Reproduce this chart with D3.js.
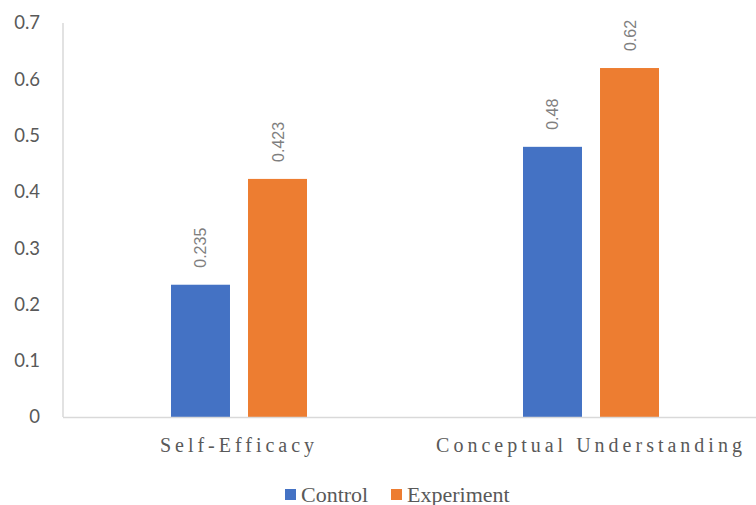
<!DOCTYPE html>
<html>
<head>
<meta charset="utf-8">
<script src="https://cdn.jsdelivr.net/npm/d3@7"></script>
<style>
  html, body { margin: 0; padding: 0; background: #fff; }
  svg { display: block; }
</style>
</head>
<body>
<div id="chart"></div>
<script>
// Grouped bar chart: Control vs Experiment across two outcome measures
const categories = ["Self-Efficacy", "Conceptual Understanding"];
const seriesNames = ["Control", "Experiment"];
const controlValues = [0.235, 0.48];
const experimentValues = [0.423, 0.62];
const yTicks = [0, 0.1, 0.2, 0.3, 0.4, 0.5, 0.6, 0.7];
const valueLabels = [["0.235", "0.48"], ["0.423", "0.62"]];
const colors = ["#4472C4", "#ED7D31"];

const width = 756, height = 505;
const svg = d3.select("#chart").append("svg")
  .attr("width", width).attr("height", height);

const plotLeft = 63, plotRight = 767, plotTop = 23, plotBottom = 417;

const y = d3.scaleLinear().domain([0, 0.7]).range([plotBottom, plotTop]);
const x0 = d3.scaleBand().domain(categories).range([plotLeft, plotRight]).paddingInner(0).paddingOuter(0);
const x1 = d3.scaleBand().domain(seriesNames).range([0, 136]).paddingInner(0.234);

const seriesValues = [controlValues, experimentValues];

// y-axis tick labels
const yAxis = d3.axisLeft(y).tickValues(yTicks).tickSize(0).tickPadding(23)
  .tickFormat(d => d === 0 ? "0" : d3.format(".1f")(d));
const gy = svg.append("g").attr("transform", `translate(${plotLeft},0)`).call(yAxis);
gy.select(".domain").remove();
gy.selectAll("text")
  .attr("fill", "#595959")
  .style("font-family", "Lato, 'Open Sans', sans-serif")
  .style("font-size", "18.5px");

// bars with rotated value labels
seriesNames.forEach((s, si) => {
  const g = svg.append("g");
  categories.forEach((c, ci) => {
    const v = seriesValues[si][ci];
    const cx = x0(c) + (x0.bandwidth() - 136) / 2 + x1(s);
    g.append("rect")
      .attr("x", cx)
      .attr("y", y(v))
      .attr("width", x1.bandwidth())
      .attr("height", y(0) - y(v))
      .attr("fill", colors[si]);
    const lx = cx + x1.bandwidth() / 2;
    const ly = y(v) - 17;
    g.append("text")
      .attr("transform", `translate(${lx + 6},${ly}) rotate(-90)`)
      .attr("text-anchor", "start")
      .attr("fill", "#7f7f7f")
      .style("font-family", "'Liberation Sans', Arial, sans-serif")
      .style("font-size", "16px")
      .text(valueLabels[si][ci]);
  });
});

// axis lines
svg.append("line")
  .attr("x1", plotLeft).attr("x2", plotLeft)
  .attr("y1", plotTop).attr("y2", plotBottom)
  .attr("stroke", "#d9d9d9").attr("stroke-width", 1.5);
svg.append("line")
  .attr("x1", plotLeft).attr("x2", width)
  .attr("y1", plotBottom + 0.5).attr("y2", plotBottom + 0.5)
  .attr("stroke", "#d9d9d9").attr("stroke-width", 1.5);

// category labels
categories.forEach(c => {
  svg.append("text")
    .attr("x", x0(c) + x0.bandwidth() / 2)
    .attr("y", 451.5)
    .attr("text-anchor", "middle")
    .attr("fill", "#595959")
    .style("font-family", "'Liberation Serif', 'DejaVu Serif', serif")
    .style("font-size", "20px")
    .style("letter-spacing", "4px")
    .text(c);
});

// legend
const legend = svg.append("g").attr("transform", "translate(285,489)");
const legendOffsets = [0, 106];
seriesNames.forEach((s, i) => {
  const g = legend.append("g").attr("transform", `translate(${legendOffsets[i]},0)`);
  g.append("rect").attr("x", 0).attr("y", 0).attr("width", 11).attr("height", 11).attr("fill", colors[i]);
  g.append("text")
    .attr("x", 16).attr("y", 12.5)
    .attr("fill", "#595959")
    .style("font-family", "'Liberation Serif', 'DejaVu Serif', serif")
    .style("font-size", "22px")
    .text(s);
});
</script>
</body>
</html>
